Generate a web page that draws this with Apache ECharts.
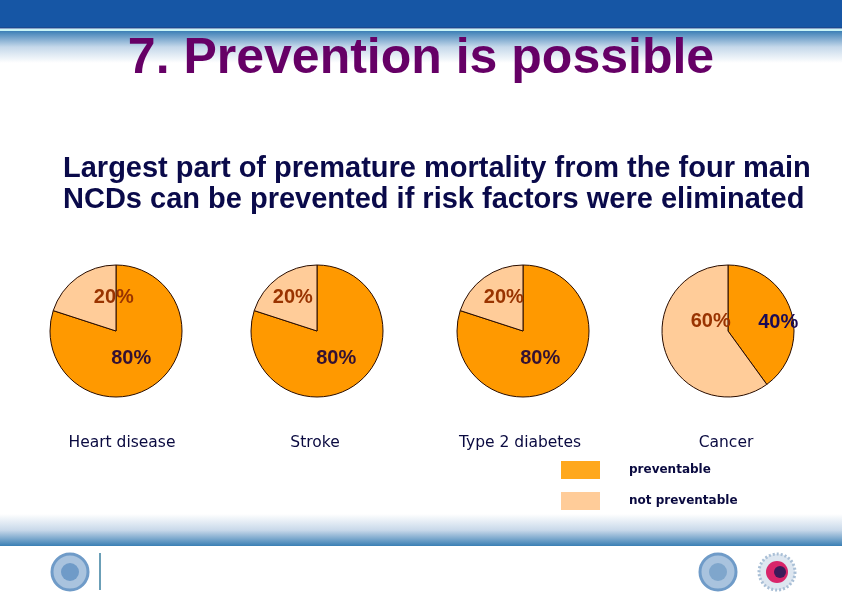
<!DOCTYPE html>
<html>
<head>
<meta charset="utf-8">
<script src="https://cdn.jsdelivr.net/npm/echarts@6/dist/echarts.min.js"></script>
<style>
  html, body { margin: 0; padding: 0; background: #fff; }
  #main { width: 842px; height: 595px; }
</style>
</head>
<body>
<div id="main"></div>
<script>
// data
var diseases = ['Heart disease', 'Stroke', 'Type 2 diabetes', 'Cancer'];
var preventable = [80, 80, 80, 40];
var notPreventable = [20, 20, 20, 60];
var shareNames = ['preventable', 'not preventable'];

// layout of the four pies (pixels)
var pieX = [116, 317, 523, 728];
var pieY = 331;
var pieR = 66;
var nameX = [122, 315, 520, 726];
// label nudges: [preventable, not preventable]
var labelShift = [
  [[-6, -2], [19, -4]],
  [[-2, -2], [-3, -4]],
  [[-4, -2], [2, -4]],
  [[16, 3], [17, -21]]
];
var darkLabel = ['#331133', '#331133', '#331133', '#1a0a55'];

var series = diseases.map(function (d, i) {
  return {
    type: 'pie',
    name: d,
    center: [pieX[i], pieY],
    radius: pieR,
    startAngle: 90,
    clockwise: true,
    avoidLabelOverlap: false,
    emphasis: { disabled: true },
    itemStyle: { borderColor: '#2a0d00', borderWidth: 1 },
    label: {
      show: true,
      position: 'inside',
      formatter: '{c}%',
      fontFamily: 'Liberation Sans',
      fontWeight: 'bold',
      fontSize: 20
    },
    labelLine: { show: false },
    data: [
      {
        name: shareNames[0], value: preventable[i],
        itemStyle: { color: '#ff9900' },
        label: { color: darkLabel[i], offset: labelShift[i][0] }
      },
      {
        name: shareNames[1], value: notPreventable[i],
        itemStyle: { color: '#ffcc99' },
        label: { color: '#993300', offset: labelShift[i][1] }
      }
    ]
  };
});

var titles = diseases.map(function (d, i) {
  return {
    text: d,
    left: nameX[i],
    top: 435,
    padding: 0,
    textAlign: 'center',
    textStyle: { fontFamily: 'DejaVu Sans', fontSize: 15.5, fontWeight: 'normal', color: '#0a0a40' }
  };
});

var option = {
  animation: false,
  backgroundColor: '#fff',
  title: titles,
  legend: {
    orient: 'vertical',
    left: 561,
    top: 461,
    padding: 0,
    itemWidth: 39,
    itemHeight: 18,
    itemGap: 13,
    icon: 'rect',
    selectedMode: false,
    itemStyle: { borderWidth: 0 },
    textStyle: {
      fontFamily: 'DejaVu Sans', fontSize: 12, fontWeight: 'bold', color: '#0a0a40',
      padding: [2, 0, 0, 24]
    },
    data: [
      { name: shareNames[0], itemStyle: { color: '#ffa81c', borderWidth: 0 } },
      { name: shareNames[1], itemStyle: { color: '#ffcc99', borderWidth: 0 } }
    ]
  },
  graphic: [
    // top banner
    { type: 'rect', shape: { x: 0, y: 0, width: 842, height: 28 }, style: { fill: '#1656a5' }, silent: true },
    { type: 'rect', shape: { x: 0, y: 27, width: 842, height: 1.5 }, style: { fill: '#1a4a90' }, silent: true },
    { type: 'rect', shape: { x: 0, y: 29, width: 842, height: 2.5 }, style: { fill: '#c8f4f6' }, silent: true },
    {
      type: 'rect', shape: { x: 0, y: 31, width: 842, height: 32 }, silent: true,
      style: { fill: new echarts.graphic.LinearGradient(0, 0, 0, 1, [
        { offset: 0, color: '#3c7fb6' }, { offset: 0.5, color: '#c5d8ea' }, { offset: 1, color: '#ffffff' }
      ]) }
    },
    // bottom band
    {
      type: 'rect', shape: { x: 0, y: 514, width: 842, height: 32 }, silent: true,
      style: { fill: new echarts.graphic.LinearGradient(0, 0, 0, 1, [
        { offset: 0, color: '#ffffff' }, { offset: 0.5, color: '#c9d9ea' }, { offset: 1, color: '#3a7fb4' }
      ]) }
    },
    // heading
    {
      type: 'text', left: 'center', top: 34, silent: true,
      style: { text: '7. Prevention is possible', fontFamily: 'Liberation Sans', fontWeight: 'bold',
               fontSize: 50, fill: '#660066' }
    },
    {
      type: 'text', left: 63, top: 153, silent: true,
      style: { text: 'Largest part of premature mortality from the four main\nNCDs can be prevented if risk factors were eliminated',
               fontFamily: 'Liberation Sans', fontWeight: 'bold', fontSize: 29, lineHeight: 31, fill: '#0a0a4a' }
    },
    // footer emblems
    { type: 'circle', shape: { cx: 70, cy: 572, r: 18 }, style: { fill: '#a9c3de', stroke: '#6f9bc8', lineWidth: 3 }, silent: true },
    { type: 'circle', shape: { cx: 70, cy: 572, r: 9 }, style: { fill: '#6f9bc8' }, silent: true },
    { type: 'line', shape: { x1: 100, y1: 553, x2: 100, y2: 590 }, style: { stroke: '#3a7f9f', lineWidth: 1.5 }, silent: true },
    { type: 'circle', shape: { cx: 718, cy: 572, r: 18 }, style: { fill: '#a9c3de', stroke: '#6f9bc8', lineWidth: 3 }, silent: true },
    { type: 'circle', shape: { cx: 718, cy: 572, r: 9 }, style: { fill: '#7fa6cc' }, silent: true },
    { type: 'circle', shape: { cx: 777, cy: 572, r: 18 }, style: { fill: '#dde6f0', stroke: '#a9bfd6', lineWidth: 3, lineDash: [2, 2] }, silent: true },
    { type: 'circle', shape: { cx: 777, cy: 572, r: 11 }, style: { fill: '#d8246a' }, silent: true },
    { type: 'circle', shape: { cx: 780, cy: 572, r: 6 }, style: { fill: '#3a1a5a' }, silent: true }
  ],
  series: series
};

var myChart = echarts.init(document.getElementById('main'), null, { renderer: 'canvas' });
myChart.setOption(option, true);
</script>
</body>
</html>
